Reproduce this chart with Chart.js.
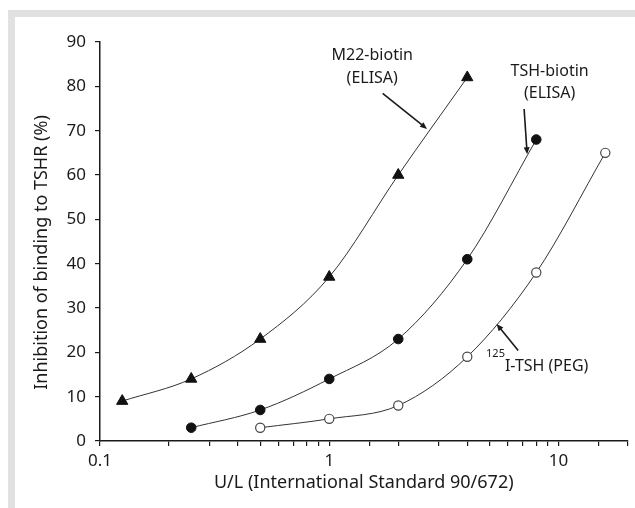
<!DOCTYPE html>
<html>
<head>
<meta charset="utf-8">
<script src="https://cdn.jsdelivr.net/npm/chart.js@4"></script>
<style>
    html, body { margin: 0; padding: 0; background: #fff; }
    body { width: 635px; height: 508px; position: relative; overflow: hidden; }
    #frame {
        position: absolute; left: 8px; top: 10px; right: 0; bottom: 0;
        border-top: 7px solid #e1e1e1; border-left: 7px solid #e1e1e1;
    }
    #wrap { position: absolute; left: 0; top: 0; width: 635px; height: 508px; }
</style>
</head>
<body>
<div id="frame"></div>
<div id="wrap"><canvas id="myChart" width="635" height="508"></canvas></div>
<script>
// U/L values for each series
const m22Doses = [0.125, 0.25, 0.5, 1, 2, 4];
const m22Values = [9, 14, 23, 37, 60, 82];

const tshBiotinDoses = [0.25, 0.5, 1, 2, 4, 8];
const tshBiotinValues = [3, 7, 14, 23, 41, 68];

const iTshDoses = [0.5, 1, 2, 4, 8, 16];
const iTshValues = [3, 5, 8, 19, 38, 65];

const xTickLabels = [0.1, 1, 10];
const yTickLabels = [0, 10, 20, 30, 40, 50, 60, 70, 80, 90];

// annotations, in data units
const arrows = [
    { from: [1.71, 78.4], to: [2.67, 70.4] },
    { from: [7.08, 74.9], to: [7.30, 64.7] },
    { from: [6.67, 20.4], to: [5.37, 26.4] }
];
const notes = [
    { text: 'M22-biotin', at: [1.54, 86.9] },
    { text: '(ELISA)', at: [1.54, 81.8] },
    { text: 'TSH-biotin', at: [9.15, 83.3] },
    { text: '(ELISA)', at: [9.15, 78.4] }
];
const yTitle = 'Inhibition of binding to TSHR (%)';

const FONT = '"Noto Sans", "Open Sans", sans-serif';
const INK = '#1a1a1a';

function toPoints(xs, ys) {
    return xs.map((x, i) => ({ x: x, y: ys[i] }));
}

const annotate = {
    id: 'annotate',
    afterDatasetsDraw(chart) {
        const ctx = chart.ctx;
        const sx = chart.scales.x, sy = chart.scales.y;
        const px = p => [sx.getPixelForValue(p[0]), sy.getPixelForValue(p[1])];
        ctx.save();
        ctx.strokeStyle = INK;
        ctx.fillStyle = INK;
        ctx.lineWidth = 1.6;
        arrows.forEach(a => {
            const [x1, y1] = px(a.from);
            const [x2, y2] = px(a.to);
            const ang = Math.atan2(y2 - y1, x2 - x1);
            const len = 7, w = 3;
            ctx.beginPath();
            ctx.moveTo(x1, y1);
            ctx.lineTo(x2 - Math.cos(ang) * len * 0.8, y2 - Math.sin(ang) * len * 0.8);
            ctx.stroke();
            ctx.beginPath();
            ctx.moveTo(x2, y2);
            ctx.lineTo(x2 - Math.cos(ang) * len - Math.sin(ang) * w, y2 - Math.sin(ang) * len + Math.cos(ang) * w);
            ctx.lineTo(x2 - Math.cos(ang) * len + Math.sin(ang) * w, y2 - Math.sin(ang) * len - Math.cos(ang) * w);
            ctx.closePath();
            ctx.fill();
        });
        ctx.font = '16px ' + FONT;
        ctx.textAlign = 'center';
        ctx.textBaseline = 'middle';
        notes.forEach(n => {
            const [x, y] = px(n.at);
            ctx.fillText(n.text, x, y);
        });
        // 125I-TSH label with superscript
        const [lx, ly] = px([5.84, 16.8]);
        ctx.textAlign = 'left';
        ctx.fillText('I-TSH (PEG)', lx, ly);
        ctx.font = '11px ' + FONT;
        ctx.textAlign = 'right';
        ctx.fillText('125', lx, ly - 13);

        // y axis title, sits a little below the middle of the axis
        const area = chart.chartArea;
        ctx.font = '18px ' + FONT;
        ctx.textAlign = 'center';
        ctx.translate(42, (area.top + area.bottom) / 2 + 11);
        ctx.rotate(-Math.PI / 2);
        ctx.fillText(yTitle, 0, 0);
        ctx.restore();
    }
};

const ctx = document.getElementById('myChart').getContext('2d');
new Chart(ctx, {
    type: 'line',
    data: {
        datasets: [
            {
                label: 'M22-biotin (ELISA)',
                data: toPoints(m22Doses, m22Values),
                borderColor: '#333',
                borderWidth: 1,
                pointStyle: 'triangle',
                pointRadius: 6.5,
                pointBackgroundColor: '#111',
                pointBorderColor: '#111',
                pointBorderWidth: 1,
                cubicInterpolationMode: 'monotone'
            },
            {
                label: 'TSH-biotin (ELISA)',
                data: toPoints(tshBiotinDoses, tshBiotinValues),
                borderColor: '#333',
                borderWidth: 1,
                pointStyle: 'circle',
                pointRadius: 4.8,
                pointBackgroundColor: '#111',
                pointBorderColor: '#111',
                pointBorderWidth: 1,
                cubicInterpolationMode: 'monotone'
            },
            {
                label: '125I-TSH (PEG)',
                data: toPoints(iTshDoses, iTshValues),
                borderColor: '#333',
                borderWidth: 1,
                pointStyle: 'circle',
                pointRadius: 4.6,
                pointBackgroundColor: '#fff',
                pointBorderColor: '#444',
                pointBorderWidth: 1.2,
                cubicInterpolationMode: 'monotone'
            }
        ]
    },
    options: {
        responsive: false,
        animation: false,
        layout: { padding: { top: 42, right: 7, left: 0, bottom: 0 } },
        plugins: {
            legend: { display: false },
            tooltip: { enabled: false }
        },
        scales: {
            x: {
                type: 'logarithmic',
                min: 0.1,
                max: 20,
                afterFit(scale) { scale.height = 67; },
                border: { display: true, color: INK, width: 1.5 },
                grid: { drawOnChartArea: false, drawTicks: true, tickLength: 5, color: INK, lineWidth: 1.2 },
                ticks: {
                    autoSkip: false,
                    maxRotation: 0,
                    color: INK,
                    padding: 5,
                    font: { family: FONT, size: 17 },
                    callback: v => xTickLabels.includes(v) ? String(v) : ''
                },
                title: {
                    display: true,
                    text: 'U/L (International Standard 90/672)',
                    color: INK,
                    font: { family: FONT, size: 18 },
                    padding: { top: 0, bottom: 14 }
                }
            },
            y: {
                min: 0,
                max: 90,
                afterFit(scale) { scale.width = 100; },
                afterBuildTicks(scale) { scale.ticks = yTickLabels.map(v => ({ value: v })); },
                border: { display: true, color: INK, width: 1.5 },
                grid: { drawOnChartArea: false, drawTicks: true, tickLength: 5, color: INK, lineWidth: 1.2 },
                ticks: {
                    color: INK,
                    padding: 9,
                    font: { family: FONT, size: 17 }
                }
            }
        }
    },
    plugins: [annotate]
});
</script>
</body>
</html>
